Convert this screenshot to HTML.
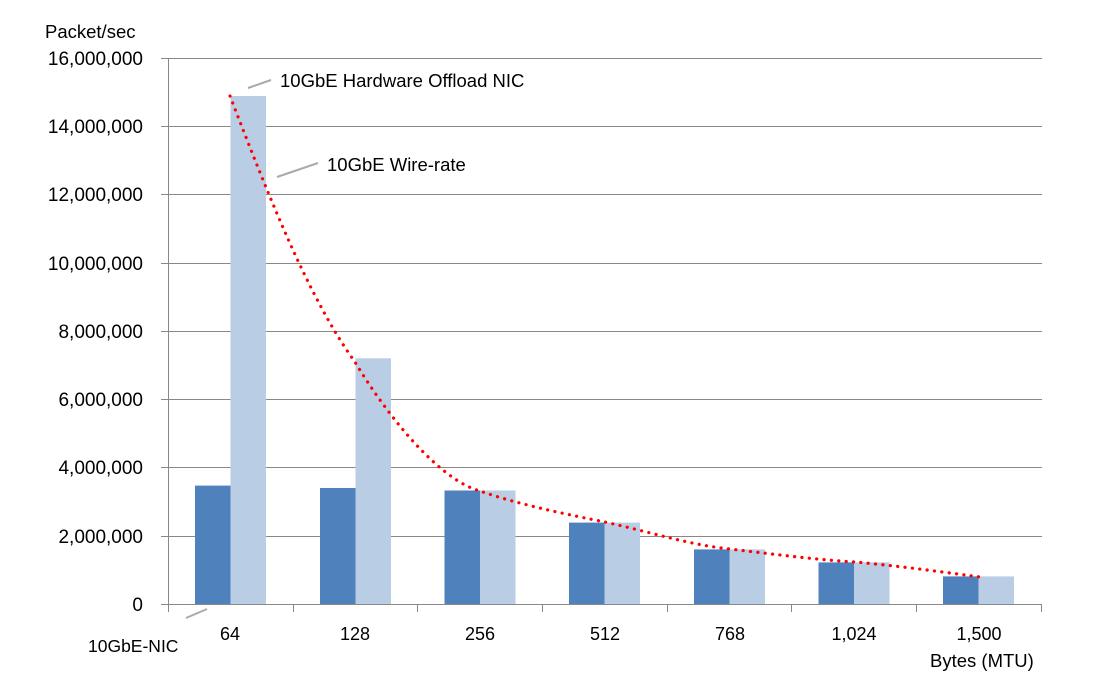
<!DOCTYPE html>
<html><head><style>
body{margin:0;background:#fff;}
svg{display:block;font-family:"Liberation Sans",sans-serif;}
</style></head><body>
<svg width="1110" height="685" viewBox="0 0 1110 685">
<g stroke="#888" stroke-width="1">
<line x1="161" y1="58.5" x2="1042" y2="58.5"/>
<line x1="161" y1="126.5" x2="1042" y2="126.5"/>
<line x1="161" y1="194.5" x2="1042" y2="194.5"/>
<line x1="161" y1="263.5" x2="1042" y2="263.5"/>
<line x1="161" y1="331.5" x2="1042" y2="331.5"/>
<line x1="161" y1="399.5" x2="1042" y2="399.5"/>
<line x1="161" y1="467.5" x2="1042" y2="467.5"/>
<line x1="161" y1="536.5" x2="1042" y2="536.5"/>
</g>
<g fill="#4f81bd">
<rect x="195" y="485.6" width="35.5" height="118.4"/>
<rect x="320" y="488" width="35.5" height="116"/>
<rect x="444.5" y="490.5" width="35.5" height="113.5"/>
<rect x="569" y="522.6" width="35.5" height="81.4"/>
<rect x="694" y="549.4" width="35.5" height="54.6"/>
<rect x="818.5" y="562.4" width="35.5" height="41.6"/>
<rect x="943" y="576.4" width="35.5" height="27.6"/>
</g>
<g fill="#b9cde5">
<rect x="230.5" y="96" width="35.5" height="508"/>
<rect x="355.5" y="358.3" width="35.5" height="245.7"/>
<rect x="480" y="490.5" width="35.5" height="113.5"/>
<rect x="604.5" y="522.6" width="35.5" height="81.4"/>
<rect x="729.5" y="549.4" width="35.5" height="54.6"/>
<rect x="854" y="562.4" width="35.5" height="41.6"/>
<rect x="978.5" y="576.4" width="35.5" height="27.6"/>
</g>
<g stroke="#888" stroke-width="1">
<line x1="168.5" y1="58" x2="168.5" y2="604"/>
<line x1="161" y1="604.5" x2="1042" y2="604.5"/>
<line x1="168.5" y1="604" x2="168.5" y2="612"/>
<line x1="293.5" y1="604" x2="293.5" y2="612"/>
<line x1="417.5" y1="604" x2="417.5" y2="612"/>
<line x1="542.5" y1="604" x2="542.5" y2="612"/>
<line x1="667.5" y1="604" x2="667.5" y2="612"/>
<line x1="791.5" y1="604" x2="791.5" y2="612"/>
<line x1="916.5" y1="604" x2="916.5" y2="612"/>
<line x1="1041.5" y1="604" x2="1041.5" y2="612"/>
</g>
<path d="M230,96 C270,200 310,300 355,362 C390,420 440,480 480,491 C520,505 570,515 605,522 C650,532 690,545 730,549 C780,555 820,560 855,562 C900,566 950,573 980,577" fill="none" stroke="#f00" stroke-width="3.2" stroke-dasharray="0.1 7.3" stroke-linecap="round"/>
<g stroke="#aaa" stroke-width="2">
<line x1="248" y1="88" x2="271" y2="80"/>
<line x1="277" y1="177" x2="318" y2="163"/>
<line x1="186" y1="618" x2="207" y2="609"/>
</g>
<g font-size="19" fill="#000" text-anchor="end">
<text x="143" y="65">16,000,000</text>
<text x="143" y="133">14,000,000</text>
<text x="143" y="201">12,000,000</text>
<text x="143" y="270">10,000,000</text>
<text x="143" y="338">8,000,000</text>
<text x="143" y="406">6,000,000</text>
<text x="143" y="474">4,000,000</text>
<text x="143" y="543">2,000,000</text>
<text x="143" y="611">0</text>
</g>
<g font-size="18" fill="#000" text-anchor="middle">
<text x="230" y="640">64</text>
<text x="355" y="640">128</text>
<text x="480" y="640">256</text>
<text x="605" y="640">512</text>
<text x="730" y="640">768</text>
<text x="854" y="640">1,024</text>
<text x="979" y="640">1,500</text>
</g>
<g font-size="18.5" fill="#000">
<text x="45" y="38">Packet/sec</text>
<text x="280" y="87">10GbE Hardware Offload NIC</text>
<text x="327" y="171">10GbE Wire-rate</text>
<text x="88" y="652" font-size="17.5">10GbE-NIC</text>
<text x="930" y="667">Bytes (MTU)</text>
</g>
</svg>
</body></html>
